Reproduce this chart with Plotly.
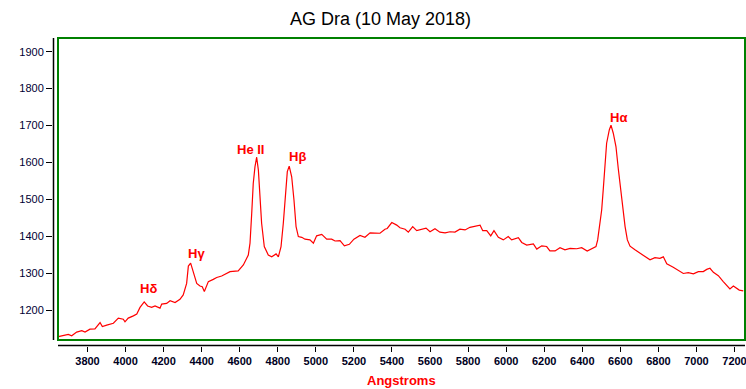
import plotly.graph_objects as go

# Spectrum (wavelength in Angstroms, relative flux)
wavelength = [3647, 3673, 3699, 3717, 3743, 3770, 3787, 3813, 3839, 3866, 3878, 3901, 3918, 3936,
              3962, 3988, 3997, 4014, 4041, 4059, 4076, 4098, 4116, 4137, 4155, 4181, 4190, 4216,
              4234, 4260, 4286, 4303, 4321, 4330, 4342, 4356, 4374, 4391, 4403, 4414, 4435, 4461,
              4479, 4505, 4531, 4549, 4592, 4619, 4645, 4654, 4663, 4671, 4680, 4689, 4698, 4706,
              4715, 4729, 4750, 4768, 4791, 4803, 4817, 4829, 4839, 4850, 4860, 4873, 4885, 4896,
              4908, 4926, 4943, 4969, 4987, 5004, 5031, 5057, 5083, 5101, 5127, 5150, 5176, 5200,
              5232, 5258, 5285, 5311, 5337, 5363, 5375, 5399, 5425, 5442, 5469, 5486, 5509, 5530,
              5556, 5579, 5600, 5626, 5652, 5679, 5705, 5731, 5757, 5784, 5810, 5836, 5863, 5877,
              5898, 5919, 5936, 5959, 5985, 6011, 6029, 6064, 6082, 6108, 6143, 6161, 6187, 6213,
              6230, 6257, 6283, 6309, 6336, 6371, 6397, 6426, 6450, 6472, 6481, 6489, 6493, 6502,
              6510, 6519, 6528, 6542, 6551, 6563, 6577, 6589, 6602, 6612, 6625, 6637, 6651, 6677,
              6703, 6730, 6756, 6782, 6808, 6826, 6844, 6878, 6905, 6931, 6957, 6984, 7010, 7036,
              7054, 7071, 7089, 7115, 7141, 7159, 7176, 7194, 7208, 7225, 7246]
flux = [1128, 1132, 1134, 1130, 1140, 1144, 1140, 1148, 1149, 1166, 1155, 1159, 1162, 1164,
        1178, 1175, 1168, 1178, 1184, 1189, 1207, 1222, 1211, 1207, 1211, 1205, 1216, 1218,
        1225, 1220, 1229, 1241, 1272, 1319, 1327, 1304, 1272, 1265, 1263, 1250, 1277, 1283,
        1288, 1292, 1299, 1304, 1306, 1322, 1349, 1381, 1462, 1543, 1588, 1614, 1579, 1507,
        1435, 1372, 1349, 1344, 1352, 1344, 1372, 1435, 1507, 1575, 1590, 1561, 1498, 1426,
        1399, 1397, 1392, 1390, 1381, 1401, 1405, 1392, 1392, 1387, 1388, 1374, 1378, 1392,
        1402, 1397, 1409, 1408, 1408, 1419, 1421, 1437, 1430, 1423, 1419, 1411, 1426, 1415,
        1419, 1422, 1412, 1420, 1411, 1409, 1412, 1411, 1419, 1417, 1424, 1426, 1430, 1415,
        1415, 1401, 1415, 1397, 1390, 1399, 1390, 1396, 1383, 1376, 1379, 1365, 1374, 1372,
        1360, 1360, 1369, 1363, 1367, 1366, 1369, 1360, 1367, 1372, 1390, 1417, 1435, 1471,
        1525, 1588, 1652, 1688, 1701, 1679, 1643, 1584, 1525, 1480, 1426, 1390, 1373, 1363,
        1354, 1344, 1336, 1342, 1340, 1344, 1325, 1316, 1308, 1299, 1301, 1298, 1304, 1304,
        1310, 1313, 1302, 1293, 1277, 1265, 1257, 1265, 1259, 1254, 1252]

line_labels = ["H\u03b4", "H\u03b3", "He II", "H\u03b2", "H\u03b1"]
label_x = [4123, 4375, 4659, 4901, 6588]
label_y = [1257, 1354, 1634, 1615, 1723]

x_ticks = list(range(3800, 7201, 200))
y_ticks = list(range(1200, 1901, 100))

W, H = 746, 389
L, R, T, B = 53, 0, 37, 43
pw, ph = W - L - R, H - T - B

def px_to_paper_x(px):
    return (px - L) / pw

def py_to_paper_y(py):
    return (H - B - py) / ph

fig = go.Figure()
fig.add_trace(go.Scatter(x=wavelength, y=flux, mode="lines",
                         line=dict(color="#ff0000", width=1.2), hoverinfo="skip"))

for t, xv, yv in zip(line_labels, label_x, label_y):
    fig.add_annotation(x=xv, y=yv, text=t, showarrow=False,
                       font=dict(family="Liberation Sans, Arial", size=13, color="#ff0000", weight="bold"))

# title
fig.add_annotation(xref="paper", yref="paper", x=px_to_paper_x(380), y=py_to_paper_y(19),
                   text="AG Dra (10 May 2018)", showarrow=False, xanchor="center", yanchor="middle",
                   font=dict(family="Liberation Sans, Arial", size=18, color="#000000"))
# x-axis title
fig.add_annotation(xref="paper", yref="paper", x=px_to_paper_x(401), y=py_to_paper_y(380),
                   text="Angstroms", showarrow=False, xanchor="center", yanchor="middle",
                   font=dict(family="Liberation Sans, Arial", size=13, color="#ff0000", weight="bold"))

# green frame
fig.add_shape(type="rect", xref="paper", yref="paper",
              x0=px_to_paper_x(58), x1=px_to_paper_x(745),
              y0=py_to_paper_y(340), y1=py_to_paper_y(38),
              line=dict(color="#008000", width=2))
# detached axis lines
fig.add_shape(type="line", xref="paper", yref="paper",
              x0=px_to_paper_x(53.5), x1=px_to_paper_x(53.5),
              y0=py_to_paper_y(340), y1=py_to_paper_y(38),
              line=dict(color="#000000", width=1.5))
fig.add_shape(type="line", xref="paper", yref="paper",
              x0=px_to_paper_x(58), x1=px_to_paper_x(745),
              y0=py_to_paper_y(345.5), y1=py_to_paper_y(345.5),
              line=dict(color="#000000", width=1.5))

# axis ranges derived so that 3800 -> px 87.5 and 7200 -> px 734.5; 1200 -> py 310, 1900 -> py 51.7
xs = (7200 - 3800) / (734.5 - 87.5)
ys = (1900 - 1200) / (310 - 51.7)
x0 = 3800 - (87.5 - L) * xs
x1 = 3800 + (W - R - 87.5) * xs
y0 = 1200 - ((H - B) - 310) * ys
y1 = 1200 + (310 - T) * ys

fig.update_layout(
    width=W, height=H,
    margin=dict(l=L, r=R, t=T, b=B, pad=0),
    paper_bgcolor="white", plot_bgcolor="white",
    showlegend=False,
    xaxis=dict(range=[x0, x1], tickmode="array", tickvals=x_ticks,
               ticks="outside", ticklen=5, tickwidth=1, tickcolor="#000000",
               showgrid=False, zeroline=False, showline=False, ticklabeloverflow="allow",
               tickfont=dict(family="Liberation Sans, Arial", size=11, color="#000022", weight="bold")),
    yaxis=dict(range=[y0, y1], tickmode="array", tickvals=y_ticks,
               ticks="outside", ticklen=6, tickwidth=1, tickcolor="#000000",
               showgrid=False, zeroline=False, showline=False,
               tickfont=dict(family="Liberation Sans, Arial", size=11, color="#000033")),
)

fig.write_html("out.html", config={"displayModeBar": False},
               post_script="document.body.style.margin='0px';document.body.style.padding='0px';"
                           "document.body.style.overflow='hidden';")
